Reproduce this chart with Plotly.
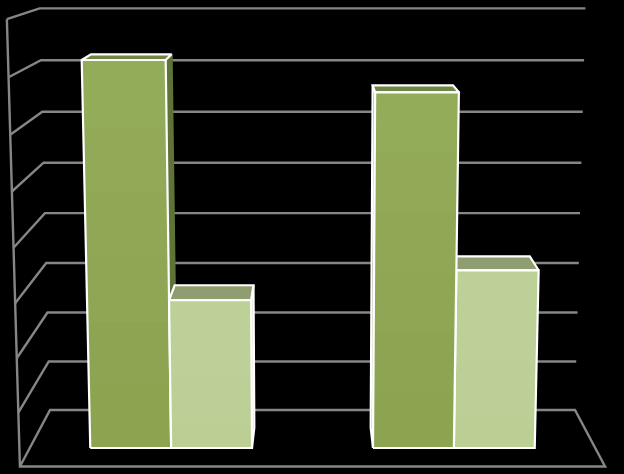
import numpy as np
import plotly.graph_objects as go

# chart data
categories = ["A", "B"]
series_dark = [7.21, 6.63]
series_light = [2.81, 3.37]
axis_max = 8

# colours: front top, front bottom, top, side
dark_colors = ((147, 172, 90), (140, 163, 80), "#6e8543", "#5f7339")
light_colors = ((189, 208, 152), (187, 207, 149), "#8f9e70", "#9aaa7c")
grid_color = "#868686"

# 3d box of the chart and camera, fitted to the picture
BOX_H = 0.76
BOX_D = 0.36
BAR_Y0 = 0.12
BAR_Y1 = 0.2506
BAR_W = 0.143
F = 1809.0
THETA = np.radians(10)
N_BANDS = 6


def project(x, y, v):
    # x across (-0.5..0.5), y towards the viewer, v in axis units
    z = v / axis_max * BOX_H
    zc = 3.446 - y * np.cos(THETA) - z * np.sin(THETA)
    yc = -0.3296 - y * np.sin(THETA) + z * np.cos(THETA)
    return 312.5 + F * x / zc, 237 - F * yc / zc


def poly(points):
    xy = [project(*p) for p in points]
    return [p[0] for p in xy], [p[1] for p in xy]


fig = go.Figure()


def add_line(points):
    xs, ys = poly(points)
    fig.add_trace(go.Scatter(x=xs, y=ys, mode="lines",
                             line=dict(color=grid_color, width=2.4),
                             hoverinfo="skip"))


def add_face(points, color, edge="white", edge_w=2.2):
    pts = points + [points[0]]
    xs, ys = poly(pts)
    fig.add_trace(go.Scatter(x=xs, y=ys, mode="lines", fill="toself", fillcolor=color,
                             line=dict(color=edge, width=edge_w),
                             hoverinfo="skip"))


def add_front(x0, x1, y, v, top_rgb, bottom_rgb):
    # plotly has no gradient fill, so paint overlapping bands from the bottom up
    for k in range(N_BANDS):
        t = k / (N_BANDS - 1)
        rgb = [round(b + (a - b) * t) for a, b in zip(top_rgb, bottom_rgb)]
        color = "rgb(%d,%d,%d)" % tuple(rgb)
        level = v * k / N_BANDS
        xs, ys = poly([(x0, y, level), (x1, y, level), (x1, y, v), (x0, y, v)])
        fig.add_trace(go.Scatter(x=xs, y=ys, mode="none", fill="toself", fillcolor=color,
                                 hoverinfo="skip"))
    xs, ys = poly([(x0, y, 0), (x1, y, 0), (x1, y, v), (x0, y, v), (x0, y, 0)])
    fig.add_trace(go.Scatter(x=xs, y=ys, mode="lines",
                             line=dict(color="white", width=2.2), hoverinfo="skip"))


def add_bar(x0, x1, v, colors, side_edge):
    y0, y1 = BAR_Y0, BAR_Y1
    # side face, only the one that faces the middle can be seen
    if x1 < 0:
        add_face([(x1, y1, 0), (x1, y0, 0), (x1, y0, v), (x1, y1, v)], colors[3], side_edge)
    if x0 > 0:
        add_face([(x0, y1, 0), (x0, y0, 0), (x0, y0, v), (x0, y1, v)], colors[3], side_edge)
    add_face([(x0, y1, v), (x1, y1, v), (x1, y0, v), (x0, y0, v)], colors[2])
    add_front(x0, x1, y1, v, colors[0], colors[1])


# walls and floor
for i in range(1, axis_max + 1):
    add_line([(-0.5, BOX_D, i), (-0.5, 0, i), (0.5, 0, i)])
add_line([(-0.5, BOX_D, axis_max), (-0.5, BOX_D, 0), (0.5, BOX_D, 0), (0.5, 0, 0),
          (-0.5, 0, 0), (-0.5, BOX_D, 0)])

# bars, each category takes half of the width
cat_w = 1.0 / len(categories)
for i, cat in enumerate(categories):
    mid = -0.5 + cat_w * (i + 0.5)
    # the tall left bar has no white line down its side
    dark = (mid - BAR_W, mid, series_dark[i], dark_colors, dark_colors[3] if mid < 0 else "white")
    light = (mid, mid + BAR_W, series_light[i], light_colors, "white")
    # draw the far one first
    order = [dark, light] if mid < 0 else [light, dark]
    for b in order:
        add_bar(*b)

fig.update_layout(
    width=624, height=474,
    margin=dict(l=0, r=0, t=0, b=0),
    paper_bgcolor="black", plot_bgcolor="black",
    showlegend=False,
    xaxis=dict(range=[0, 624], visible=False),
    yaxis=dict(range=[474, 0], visible=False),
)

# page margin would push the chart 8px off
fig.write_html("out.html", config={"displayModeBar": False},
               post_script="document.body.style.margin='0';document.body.style.background='black';")
